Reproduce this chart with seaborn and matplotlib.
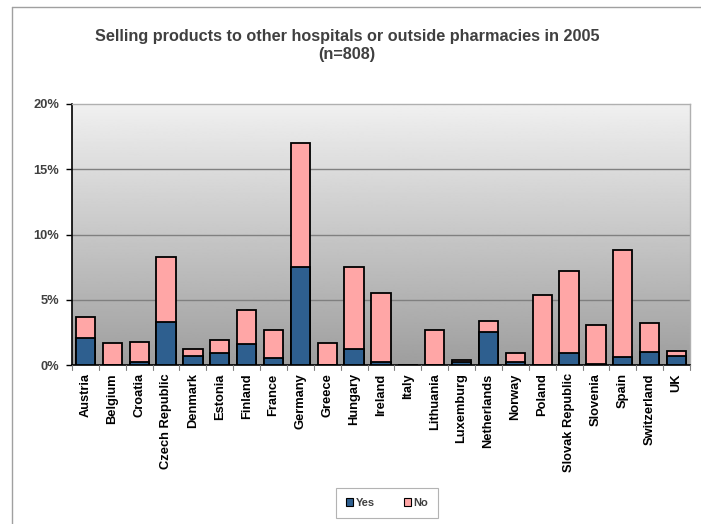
import numpy as np
import pandas as pd
import matplotlib.pyplot as plt
import seaborn as sns
from matplotlib.patches import Patch
from matplotlib.lines import Line2D

countries = ['Austria', 'Belgium', 'Croatia', 'Czech Republic', 'Denmark', 'Estonia',
             'Finland', 'France', 'Germany', 'Greece', 'Hungary', 'Ireland', 'Italy',
             'Lithuania', 'Luxemburg', 'Netherlands', 'Norway', 'Poland',
             'Slovak Republic', 'Slovenia', 'Spain', 'Switzerland', 'UK']
yes = [2.1, 0.0, 0.2, 3.3, 0.7, 0.9, 1.6, 0.5, 7.5, 0.0, 1.2, 0.2, 0.0,
       0.0, 0.2, 2.5, 0.2, 0.0, 0.9, 0.1, 0.6, 1.0, 0.7]
no = [1.6, 1.7, 1.6, 5.0, 0.5, 1.0, 2.6, 2.2, 9.5, 1.7, 6.3, 5.3, 0.0,
      2.7, 0.2, 0.9, 0.7, 5.4, 6.3, 3.0, 8.2, 2.2, 0.4]

df = pd.DataFrame({'country': countries, 'Yes': yes, 'No': no})
df['total'] = df['Yes'] + df['No']

blue = '#2E5F8F'
pink = '#FFA6A6'
txt = '#404040'

sns.set_style('white')
plt.rcParams['font.family'] = ['Liberation Sans', 'DejaVu Sans']

fig = plt.figure(figsize=(7.01, 5.24), dpi=100)
ax = fig.add_axes([72 / 701, 1 - 365 / 524, 618 / 701, 261 / 524])

# gradient background of the plot area
grad = np.linspace(0.94, 0.62, 256).reshape(-1, 1)
ax.imshow(grad, cmap='gray', vmin=0, vmax=1, aspect='auto',
          extent=[0, 1, 0, 1], transform=ax.transAxes, zorder=0)

# stacked: draw total (No on top) first, then Yes over it
sns.barplot(data=df, x='country', y='total', color=pink, saturation=1,
            width=0.72, edgecolor='black', linewidth=1.3, ax=ax, zorder=3)
sns.barplot(data=df, x='country', y='Yes', color=blue, saturation=1,
            width=0.72, edgecolor='black', linewidth=1.3, ax=ax, zorder=4)

ax.set_xlim(-0.5, len(countries) - 0.5)
ax.set_ylim(0, 20)
ax.set_yticks([0, 5, 10, 15, 20])
ax.set_yticklabels(['0%', '5%', '10%', '15%', '20%'])
for y in [5, 10, 15]:
    ax.axhline(y, color='#808080', lw=1, zorder=1)
ax.set_xlabel('')
ax.set_ylabel('')
ax.set_xticks(range(len(countries)))
ax.set_xticklabels(countries, rotation=90)
ax.tick_params(axis='x', length=0, pad=6, labelsize=9.3, labelcolor='black')
ax.tick_params(axis='y', length=4, width=1, color='black', direction='out',
               labelsize=9.3, labelcolor=txt, left=True, pad=5)
for lab in ax.get_xticklabels() + ax.get_yticklabels():
    lab.set_fontweight('bold')

# small separators between categories on the x axis
for i in range(len(countries) + 1):
    ax.plot([i - 0.5, i - 0.5], [0, -0.35], color='#808080', lw=0.8,
            clip_on=False, zorder=5)

for s in ['top', 'right']:
    ax.spines[s].set_color('#B0B0B0')
    ax.spines[s].set_linewidth(1)
for s in ['left', 'bottom']:
    ax.spines[s].set_color('black')
    ax.spines[s].set_linewidth(1.2)

fig.text(0.495, 1 - 37 / 524, 'Selling products to other hospitals or outside pharmacies in 2005',
         ha='center', va='center', fontsize=11.7, fontweight='bold', color=txt)
fig.text(0.495, 1 - 54 / 524, '(n=808)',
         ha='center', va='center', fontsize=11.7, fontweight='bold', color=txt)

# chart-area border
fig.add_artist(Line2D([12 / 701, 12 / 701], [0, 1 - 7 / 524], color='#A0A0A0', lw=1))
fig.add_artist(Line2D([12 / 701, 1], [1 - 7 / 524, 1 - 7 / 524], color='#A0A0A0', lw=1))

handles = [Patch(facecolor=blue, edgecolor='black', lw=0.8, label='Yes'),
           Patch(facecolor=pink, edgecolor='black', lw=0.8, label='No')]
leg = fig.legend(handles=handles, loc='center', bbox_to_anchor=(387 / 701, 1 - 503 / 524),
                 ncol=2, frameon=True, fancybox=False, fontsize=8, handlelength=0.7,
                 handleheight=0.7, handletextpad=0.2, columnspacing=2.6,
                 borderpad=0.9, borderaxespad=0)
leg.get_frame().set_edgecolor('#A0A0A0')
leg.get_frame().set_linewidth(0.8)
for t in leg.get_texts():
    t.set_fontweight('bold')
    t.set_color(txt)

fig.savefig('out.png', dpi=100)
